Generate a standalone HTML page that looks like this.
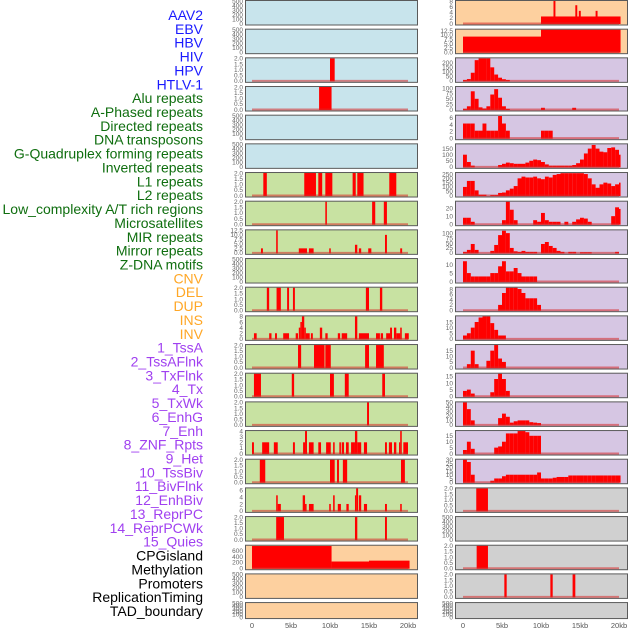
<!DOCTYPE html>
<html><head><meta charset="utf-8">
<style>
html,body{margin:0;padding:0;background:#fff;width:630px;height:630px;overflow:hidden}
svg{display:block}
.lab{font-family:"Liberation Sans",sans-serif;font-size:14px}
.tk{font-family:"Liberation Sans",sans-serif;font-size:6.5px;fill:#666}
.xt{font-family:"Liberation Sans",sans-serif;font-size:7.5px;fill:#555}
</style></head>
<body>
<svg id="chart" width="630" height="630" viewBox="0 0 630 630"></svg>
<script>
// ---- labels ----
const labelNames = ["AAV2","EBV","HBV","HIV","HPV","HTLV-1","Alu repeats","A-Phased repeats","Directed repeats","DNA transposons","G-Quadruplex forming repeats","Inverted repeats","L1 repeats","L2 repeats","Low_complexity A/T rich regions","Microsatellites","MIR repeats","Mirror repeats","Z-DNA motifs","CNV","DEL","DUP","INS","INV","1_TssA","2_TssAFlnk","3_TxFlnk","4_Tx","5_TxWk","6_EnhG","7_Enh","8_ZNF_Rpts","9_Het","10_TssBiv","11_BivFlnk","12_EnhBiv","13_ReprPC","14_ReprPCWk","15_Quies","CPGisland","Methylation","Promoters","ReplicationTiming","TAD_boundary"];
const labelGroups = [6,13,5,15,5];
const groupColors = ["#1a1aff","#0f6e0f","#ffa726","#a040f0","#000000"];

// ---- tick label arrays ----
const T500 = [0,100,200,300,400,500];
const T2 = ["0.0","0.5","1.0","1.5","2.0"];
const T2v = [0,0.5,1,1.5,2];
const T12 = ["0.0","2.5","5.0","7.5","10.0","12.5"];
const T12v = [0,2.5,5,7.5,10,12.5];
const T8 = [0,2,4,6,8];
const T6 = [0,2,4,6];
const T4 = [0,1,2,3,4];
const T600 = [0,200,400,600];
const T200 = [0,50,100,150,200];
const T100 = [0,25,50,75,100];
const T150 = [0,50,100,150];
const T250 = [0,50,100,150,200,250];
const T20 = [0,10,20];
const T10 = [0,5,10];
const T15 = [0,5,10,15];
const T50 = [0,10,20,30,40,50];
const T30 = [0,5,10,15,20,25,30];

// ---- left column segment data [startKb, endKb, value] ----
const hivSegs = [[10.0,10.6,2]];
const hpvSegs = [[8.6,10.2,2]];
const aphasedSegs = [[1.45,1.9,2],[6.7,8.2,2],[8.5,9.0,2],[9.4,10.3,2],[12.9,13.3,2],[13.5,14.3,2],[17.6,18.5,2]];
const directedSegs = [[9.4,9.6,2],[15.4,15.8,2],[16.9,17.3,2]];
const dnaSegs = [[1.15,1.4,2.5],[3.1,3.3,12.5],[6.0,7.05,2.5],[7.3,7.9,2.5],[9.9,10.1,2.5],[13.2,13.5,4.5],[13.7,14.0,2.5],[14.9,15.3,2.5],[17.05,17.3,10],[19.0,19.25,2.5]];
const invertedSegs = [[1.9,2.2,2],[3.15,3.7,2],[4.5,4.75,2],[5.25,5.5,2],[14.6,15.0,2],[16.4,16.7,2]];
const l1Segs = [[0.25,0.6,2],[2.2,2.5,2],[2.95,3.2,2],[4.0,4.75,2],[5.6,5.9,2],[6.0,6.2,4],[6.2,6.4,6],[6.4,6.7,8],[6.7,6.9,4],[6.9,7.4,2],[7.55,7.8,2],[8.7,9.0,4],[9.4,9.7,2],[11.0,11.3,2],[11.5,12.2,2],[13.2,13.5,8],[13.7,15.0,2],[15.9,16.4,2],[16.5,16.8,2],[17.2,17.7,2],[17.7,17.95,4],[18.2,18.5,4],[18.5,19.0,2],[19.0,19.2,4],[19.6,20.1,2]];
const lowcSegs = [[5.9,6.3,2],[7.95,9.3,2],[9.4,10.1,2],[14.5,15.0,2],[15.9,16.9,2]];
const microSegs = [[0.25,1.15,2],[5.1,5.4,2],[10.0,10.5,2],[11.9,12.4,2],[16.7,17.05,2]];
const mirSegs = [[14.75,15.0,2]];
const mirrorSegs = [[0,0.25,2],[1.3,2.2,2],[2.8,3.3,2],[5.25,5.5,2],[6.55,6.8,2],[6.8,7.05,4],[7.3,7.9,2],[8.5,8.85,2],[9.5,10.1,2],[10.4,10.6,2],[11.2,11.4,2],[11.5,11.8,2],[12.05,12.4,2],[12.7,13.2,2],[13.2,13.5,4],[13.5,14.0,2],[14.35,14.75,2],[17.05,17.3,2],[17.55,17.95,2],[18.2,18.5,2],[18.85,19.0,2],[19.0,19.2,4],[19.4,20.0,2]];
const zdnaSegs = [[1.0,1.7,2],[10.0,10.6,2],[10.9,11.15,2],[11.65,12.2,2],[19.1,19.6,2]];
const cnvSegs = [[3.1,3.3,4.5],[3.3,3.7,2],[6.5,6.8,4.5],[6.8,7.0,2],[7.3,7.9,2],[9.9,10.1,2],[10.4,10.6,4.5],[11.0,11.4,2],[12.1,12.4,2],[13.2,13.35,4.5],[13.35,13.6,6.5],[13.7,14.0,4.5],[14.35,14.75,2],[17.05,17.3,2],[19.0,19.2,2]];
const delSegs = [[3.1,4.1,2],[13.2,13.5,2],[17.05,17.3,2]];
const cpgSegs = [[0,10.2,760],[10.2,15,230],[15,20.2,260]];

// ---- right column data ----
const r0Segs = [[10,20.2,2.5],[11.6,11.85,8],[14.4,14.65,6.5],[14.85,15.1,4.5],[17.0,17.25,4.5]];
const r1Segs = [[0,10,9],[10,20.2,13]];
const r2Bins = [10,20,90,230,250,250,250,150,70,35,18,10];
const r3Bins = [3,15,85,50,10,5,15,70,95,55,15,3,0,0,0,0,0,0,0,0,8,0,0,0,0,0,0,0,8];
const r4Bins = [4.3,4.3,4.3,2.2,2.2,4.3,2.2,2.2,2.2,6.5,4.3,2.2,0,0,0,0,0,0,0,0,2.2,2.2,2.2];
const r5Bins = [100,40,10,0,0,0,0,0,0,15,25,35,30,25,25,25,35,50,60,55,40,20,10,10,10,10,10,10,15,30,60,110,150,180,150,125,120,155,160,140,100];
const r6Bins = [100,170,170,60,10,10,0,5,5,30,35,60,80,110,200,220,210,210,220,200,190,220,210,240,250,260,260,260,260,260,260,250,200,130,90,130,150,140,110,130,150];
const r7Bins = [8,8,3,0,0,0,0,0,0,0,5,28,18,5,0,0,0,0,5,3,14,5,3,3,3,0,3,0,3,6,8,7,3,0,0,0,0,0,10,21,19];
const r8Bins = [5,15,45,15,0,0,0,10,40,90,112,100,25,8,5,10,5,5,5,0,45,55,35,25,10,5,0,5,5,0,3,3,3,0,0,0,0,0,0,5];
const r9Bins = [12,5,3,3,3,3,3,5,5,9,12,6,6,8,5,3,3,3,3];
const r10Bins = [0,0,0,0,0,0,0,0,0,2,6.5,8.5,8.5,8.5,8,6.5,4.5,4.5,4.5,2];
const r11Bins = [3,5,10,15,19,20,20,14,8,3,3];
const r12Bins = [0,3,15,3,0,0,6,15,20,8,5];
const r13Bins = [4,5,2,0,0,0,0,3,13,17,13,4];
const r14Bins = [50,35,10,0,0,0,0,0,0,15,25,18,5,8,10,10,10,6,5,4];
const r15Bins = [3,10,4,0,0,0,0,0,5,6,10,17,17,17,19,19,18,15,15,15];
const r16Bins = [30,27,10,0,0,0,0,2,5,5,8,10,10,10,10,10,10,10,10,13,5,5,5,6,7,7,7,9,9,9,9,9,9,9,9,9,9,9,9,9,9];
const r17Segs = [[1.7,3.2,2]];
const r19Segs = [[1.75,3.2,2]];
const r20Segs = [[5.3,5.6,2],[11.2,11.5,2],[14.05,14.4,2]];

const xTickKb = [0,5,10,15,20];
const xTickLabels = ["0","5kb","10kb","15kb","20kb"];

// ---- layout ----
const NS = "http://www.w3.org/2000/svg";
const svg = document.getElementById("chart");
const COLX = [245, 455], PW = 172, X0 = [252, 463], PXKB = 7.8, BIN = 0.5;
const BG = {blue:"#c8e4ec", green:"#c8e2a2", orange:"#fdd09f", purple:"#d6c6e3", gray:"#d0d0d0"};
function mk(tag, attrs){const e=document.createElementNS(NS,tag);for(const k in attrs)e.setAttribute(k,attrs[k]);return e;}
function xScale(col,kb){return X0[col]+kb*PXKB;}
function rowTop(r){return 28.67*r;}
function rowH(r){return r===21?16:24.5;}

function P(col,row,bg,ticks,tickLabels,ymax,segs,bins,name){return {col,row,bg,ticks,tickLabels,ymax,segs,bins,name};}
const panels = [
 P(0,0,"blue",T500,null,500,null,null,"aav2"),
 P(0,1,"blue",T500,null,500,null,null,"ebv"),
 P(0,2,"blue",T2v,T2,2,hivSegs,null,"hiv"),
 P(0,3,"blue",T2v,T2,2,hpvSegs,null,"hpv"),
 P(0,4,"blue",T500,null,500,null,null,"htlv"),
 P(0,5,"blue",T500,null,500,null,null,"alu"),
 P(0,6,"green",T2v,T2,2,aphasedSegs,null,"a-phased"),
 P(0,7,"green",T2v,T2,2,directedSegs,null,"directed"),
 P(0,8,"green",T12v,T12,12.5,dnaSegs,null,"dna-transposons"),
 P(0,9,"green",T500,null,500,null,null,"g-quadruplex"),
 P(0,10,"green",T2v,T2,2,invertedSegs,null,"inverted"),
 P(0,11,"green",T8,null,8,l1Segs,null,"l1"),
 P(0,12,"green",T2v,T2,2,lowcSegs,null,"low-complexity"),
 P(0,13,"green",T2v,T2,2,microSegs,null,"microsatellites"),
 P(0,14,"green",T2v,T2,2,mirSegs,null,"mir"),
 P(0,15,"green",T4,null,4,mirrorSegs,null,"mirror"),
 P(0,16,"green",T2v,T2,2,zdnaSegs,null,"z-dna"),
 P(0,17,"green",T6,null,6.5,cnvSegs,null,"cnv"),
 P(0,18,"green",T2v,T2,2,delSegs,null,"del"),
 P(0,19,"orange",T600,null,770,cpgSegs,null,"cpg"),
 P(0,20,"orange",T500,null,500,null,null,"promoters"),
 P(0,21,"orange",T500,null,500,null,null,"tad"),
 P(1,0,"orange",T8,null,8,r0Segs,null,"r-aav2"),
 P(1,1,"orange",T12v,T12,13,r1Segs,null,"r-ebv"),
 P(1,2,"purple",T200,null,250,null,r2Bins,"r-hiv"),
 P(1,3,"purple",T100,null,105,null,r3Bins,"r-hpv"),
 P(1,4,"purple",T6,null,6.6,null,r4Bins,"r-directed"),
 P(1,5,"purple",T150,null,185,null,r5Bins,"r-gquad"),
 P(1,6,"purple",T250,null,262,null,r6Bins,"r-l1"),
 P(1,7,"purple",T20,null,28,null,r7Bins,"r-lowc"),
 P(1,8,"purple",T100,null,114,null,r8Bins,"r-mir"),
 P(1,9,"purple",T10,null,13.3,null,r9Bins,"r-zdna"),
 P(1,10,"purple",T8,null,8.5,null,r10Bins,"r-del"),
 P(1,11,"purple",T15,null,20,null,r11Bins,"r-ins"),
 P(1,12,"purple",T15,null,20,null,r12Bins,"r-tssa"),
 P(1,13,"purple",T15,null,17,null,r13Bins,"r-txflnk"),
 P(1,14,"purple",T50,null,50,null,r14Bins,"r-txwk"),
 P(1,15,"purple",T15,null,19,null,r15Bins,"r-enh"),
 P(1,16,"purple",T30,null,30,null,r16Bins,"r-znf"),
 P(1,17,"gray",T2v,T2,2,r17Segs,null,"r-enhbiv"),
 P(1,18,"gray",T500,null,500,null,null,"r-reprpc"),
 P(1,19,"gray",T2v,T2,2,r19Segs,null,"r-cpg"),
 P(1,20,"gray",T2v,T2,2,r20Segs,null,"r-promoters"),
 P(1,21,"gray",T500,null,500,null,null,"r-tad")
];

panels.forEach(p=>{
  const top=rowTop(p.row), h=rowH(p.row), bottom=top+h;
  const y=v=>bottom-1-(v/p.ymax)*(h-2);
  const g=mk("g",{});
  
  
  const bg=mk("rect",{x:COLX[p.col]+0.5,y:top+0.5,width:PW,height:h,fill:BG[p.bg]});
  
  
  g.appendChild(bg);
  const hasData = !!(p.segs||p.bins);
  const marks=[];
  if(p.segs) p.segs.forEach(s=>marks.push([s[0],s[1],s[2]]));
  if(p.bins) p.bins.forEach((v,i)=>{ if(v>0) marks.push([i*BIN,Math.min((i+1)*BIN,20.2),v]); });
  marks.forEach(m=>{
    const x1=xScale(p.col,m[0]), x2=xScale(p.col,m[1]);
    const r=mk("rect",{x:x1,y:y(m[2]),width:Math.max(x2-x1,1),height:y(0)-y(m[2])+0.5,fill:"#ff0000"});
    
    
    g.appendChild(r);
  });
  if(hasData){
    const bl=mk("line",{x1:xScale(p.col,0),x2:xScale(p.col,20),y1:y(0),y2:y(0),stroke:"rgba(215,40,40,0.55)","stroke-width":2});
    
    
    g.appendChild(bl);
  }
  const bd=mk("rect",{x:COLX[p.col]+0.5,y:top+0.5,width:PW,height:h,fill:"none",stroke:"#5a5a5a","stroke-width":1});
  
  
  g.appendChild(bd);
  p.ticks.forEach((t,i)=>{
    const tx=mk("text",{x:COLX[p.col]-2,y:y(t)+2.3,"text-anchor":"end",class:"tk"});
    tx.textContent = p.tickLabels ? p.tickLabels[i] : String(t);
    
    
    g.appendChild(tx);
  });
  svg.appendChild(g);
});

// x-axis tick labels
[0,1].forEach(col=>{
  xTickKb.forEach((kb,i)=>{
    const t=mk("text",{x:xScale(col,kb),y:628,"text-anchor":"middle",class:"xt"});
    t.textContent=xTickLabels[i];
    
    
    svg.appendChild(t);
  });
});

// left labels
let idx=0;
labelGroups.forEach((n,gi)=>{
  for(let k=0;k<n;k++){
    const t=mk("text",{x:203,y:20+13.86*idx,"text-anchor":"end",class:"lab",fill:groupColors[gi]});
    t.textContent=labelNames[idx];
    
    
    svg.appendChild(t);
    idx++;
  }
});
</script>
</body></html>
